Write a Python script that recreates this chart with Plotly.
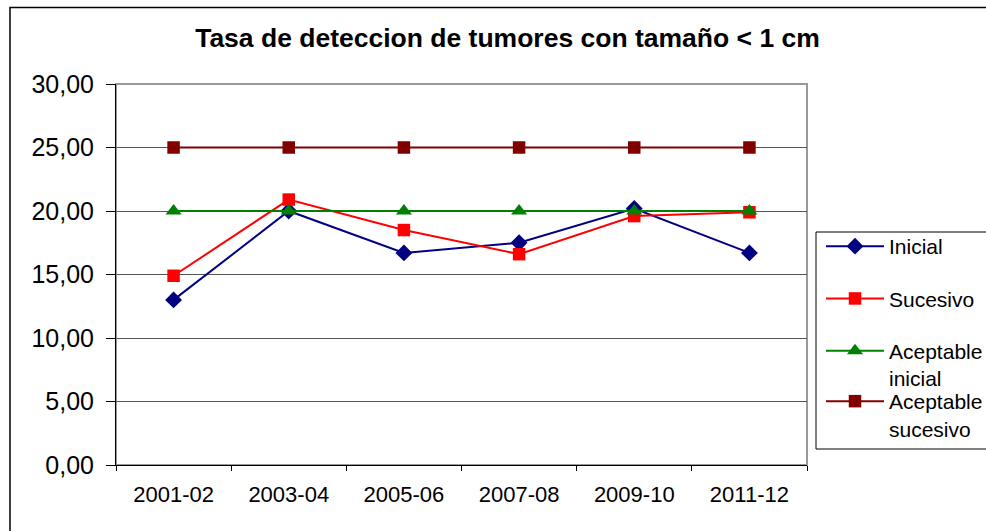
import plotly.graph_objects as go

categories = ["2001-02", "2003-04", "2005-06", "2007-08", "2009-10", "2011-12"]
inicial = [13.0, 20.0, 16.7, 17.5, 20.2, 16.7]
sucesivo = [14.9, 20.9, 18.5, 16.6, 19.6, 19.9]
aceptable_inicial = [20, 20, 20, 20, 20, 20]
aceptable_sucesivo = [25, 25, 25, 25, 25, 25]

series = [
    ("Inicial", inicial, "#000080", "diamond", 13, "legend"),
    ("Sucesivo", sucesivo, "#FF0000", "square", 12.5, "legend"),
    ("Aceptable<br>inicial", aceptable_inicial, "#008000", "triangle-up", 14, "legend"),
    ("Aceptable<br>sucesivo", aceptable_sucesivo, "#800000", "square", 12.5, "legend2"),
]

FONT = "Liberation Sans, Arial, sans-serif"

fig = go.Figure()
for i, (name, vals, col, sym, sz, lg) in enumerate(series):
    fig.add_trace(go.Scatter(
        x=categories, y=vals, name=name, mode="lines+markers",
        line=dict(color=col, width=2),
        marker=dict(symbol=sym, size=sz, color=col),
        legendgroup=f"g{i}", legend=lg,
    ))

# page offset (body margin is removed by the post script)
OFF = 0
W, H = 986, 531
# target plot area in screen coordinates
PX0, PX1, PY0, PY1 = 116, 807, 84, 465
L = PX0 - OFF
T = PY0 - OFF
pw, ph = PX1 - PX0, PY1 - PY0
R = W - L - pw
B = H - T - ph


def px(x):
    return (x - PX0) / pw


def py(y):
    return (PY1 - y) / ph


leg_common = dict(xanchor="left", yanchor="top", borderwidth=0, bgcolor="rgba(0,0,0,0)",
                  font=dict(size=21, family=FONT, color="black"),
                  traceorder="grouped", tracegroupgap=22, valign="top", itemwidth=58)

fig.update_layout(
    width=W, height=H,
    margin=dict(l=L, r=R, t=T, b=B, autoexpand=False),
    paper_bgcolor="white", plot_bgcolor="white",
    separators=",.",
    font=dict(family=FONT, color="black"),
    title=dict(text="<b>Tasa de deteccion de tumores con tamaño < 1 cm</b>",
               x=(507.5 - OFF) / W, xanchor="center", y=1 - (38 - OFF) / H, yanchor="middle",
               font=dict(size=26.5, family=FONT, color="black")),
    showlegend=True,
    legend=dict(x=px(821), y=py(226), **leg_common),
    legend2=dict(x=px(821), y=py(381), **leg_common),
    xaxis=dict(type="category", range=[-0.5, 5.5], autorange=False,
               showgrid=False, showline=True, linecolor="black", linewidth=1,
               ticks="outside", ticklen=5, tickcolor="black", tickson="boundaries",
               ticklabelstandoff=10,
               tickfont=dict(size=22, family=FONT, color="black"), zeroline=False),
    yaxis=dict(range=[0, 30], autorange=False, dtick=5, tickformat=".2f", showgrid=True,
               gridcolor="#555555",
               gridwidth=1, showline=True, linecolor="black", linewidth=1,
               ticks="outside", ticklen=9, tickcolor="black", zeroline=False,
               ticklabelstandoff=7,
               tickfont=dict(size=25, family=FONT, color="black")),
    shapes=[
        dict(type="rect", xref="paper", yref="paper", x0=0, x1=1, y0=0, y1=1,
             line=dict(color="#999999", width=2), layer="below"),
        dict(type="rect", xref="paper", yref="paper",
             x0=px(10), x1=1.6, y0=-0.5, y1=py(7.5),
             line=dict(color="black", width=1.5), layer="below"),
        dict(type="rect", xref="paper", yref="paper",
             x0=px(816), x1=1.6, y0=py(449), y1=py(232),
             line=dict(color="black", width=1), layer="above"),
    ],
)

fig.write_html(
    "out.html",
    config={"displayModeBar": False},
    post_script="document.body.style.margin='0';document.body.style.overflow='hidden';",
)
